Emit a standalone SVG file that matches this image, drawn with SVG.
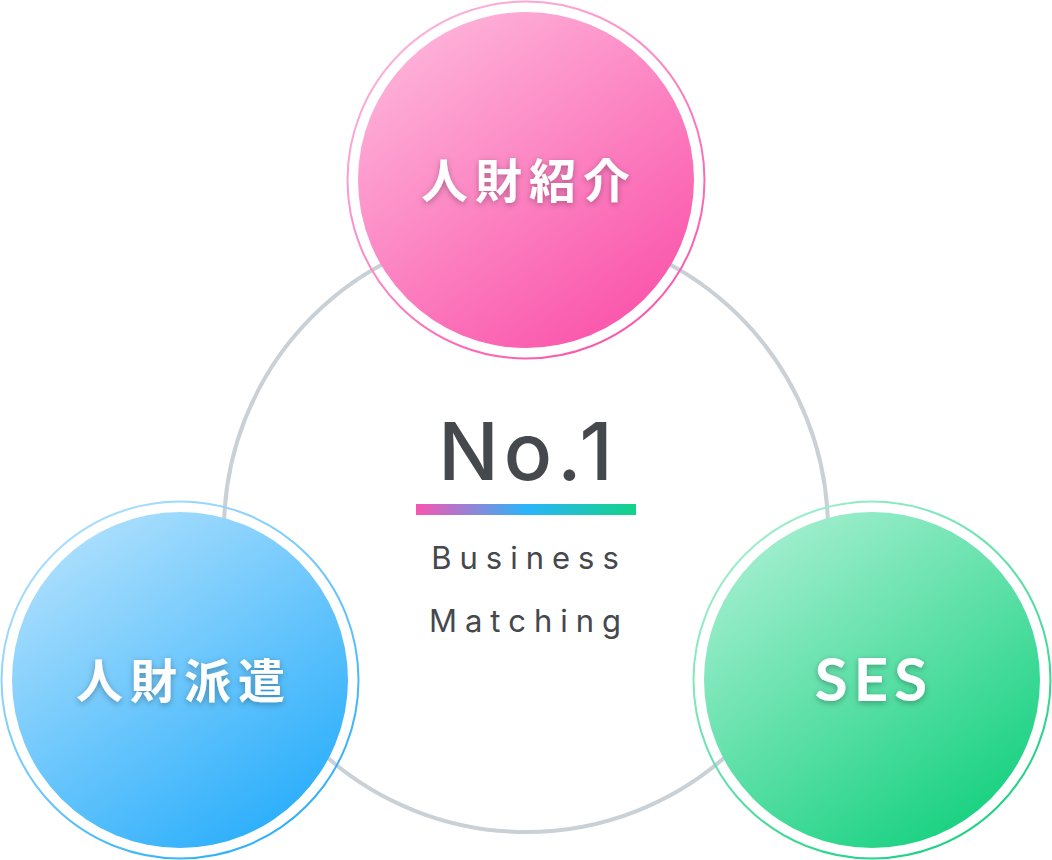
<svg xmlns="http://www.w3.org/2000/svg" width="1052" height="860" viewBox="0 0 1052 860">
<style>
.ring{fill:none;stroke-width:2}
.label{font-family:"Noto Sans CJK JP","Noto Sans",sans-serif;font-weight:700;fill:#ffffff;text-anchor:middle;filter:url(#shadow)}
.dark{font-family:"Inter","Lato","Liberation Sans",sans-serif;fill:#45484c;text-anchor:middle}
</style>
<defs>
<linearGradient id="gPink" x1="0.15" y1="0" x2="0.85" y2="1">
<stop offset="0" stop-color="#feb8dc"/>
<stop offset="1" stop-color="#fa4fa8"/>
</linearGradient>
<linearGradient id="gBlue" x1="0.15" y1="0" x2="0.85" y2="1">
<stop offset="0" stop-color="#b4e2fd"/>
<stop offset="1" stop-color="#22abfb"/>
</linearGradient>
<linearGradient id="gGreen" x1="0.15" y1="0" x2="0.85" y2="1">
<stop offset="0" stop-color="#aaf0d3"/>
<stop offset="1" stop-color="#0ecf7b"/>
</linearGradient>
<linearGradient id="gBar" x1="0" y1="0" x2="1" y2="0">
<stop offset="0" stop-color="#f955b1"/>
<stop offset="0.5" stop-color="#2ab4fa"/>
<stop offset="1" stop-color="#13d386"/>
</linearGradient>
<filter id="shadow" x="-20%" y="-40%" width="140%" height="180%">
<feDropShadow dx="0" dy="2" stdDeviation="3" flood-color="#000000" flood-opacity="0.3"/>
</filter>
</defs>
<g id="connectors">
<circle cx="526" cy="530" r="302" fill="none" stroke="#c9d0d6" stroke-width="4"/>
</g>
<g id="center">
<text class="dark" x="528" y="480" font-size="80" font-weight="500" letter-spacing="5">No.1</text>
<rect x="416" y="504" width="220" height="11" fill="url(#gBar)"/>
<text class="dark" x="529" y="569" font-size="31" letter-spacing="8">Business</text>
<text class="dark" x="529" y="632" font-size="31" letter-spacing="8">Matching</text>
</g>
<g id="node-shokai">
<circle class="ring" cx="526" cy="180" r="178.5" stroke="url(#gPink)"/>
<circle cx="526" cy="180" r="168" fill="url(#gPink)"/>
<text class="label" x="529" y="198" font-size="47" letter-spacing="7">人財紹介</text>
</g>
<g id="node-haken">
<circle class="ring" cx="180" cy="680" r="178.5" stroke="url(#gBlue)"/>
<circle cx="180" cy="680" r="168" fill="url(#gBlue)"/>
<text class="label" x="184" y="698" font-size="47" letter-spacing="7">人財派遣</text>
</g>
<g id="node-ses">
<circle class="ring" cx="872" cy="680" r="178.5" stroke="url(#gGreen)"/>
<circle cx="872" cy="680" r="168" fill="url(#gGreen)"/>
<text x="874" y="701" font-family="Lato,'Liberation Sans',sans-serif" font-weight="700" font-size="60" letter-spacing="6" fill="#ffffff" text-anchor="middle" filter="url(#shadow)">SES</text>
</g>
</svg>
